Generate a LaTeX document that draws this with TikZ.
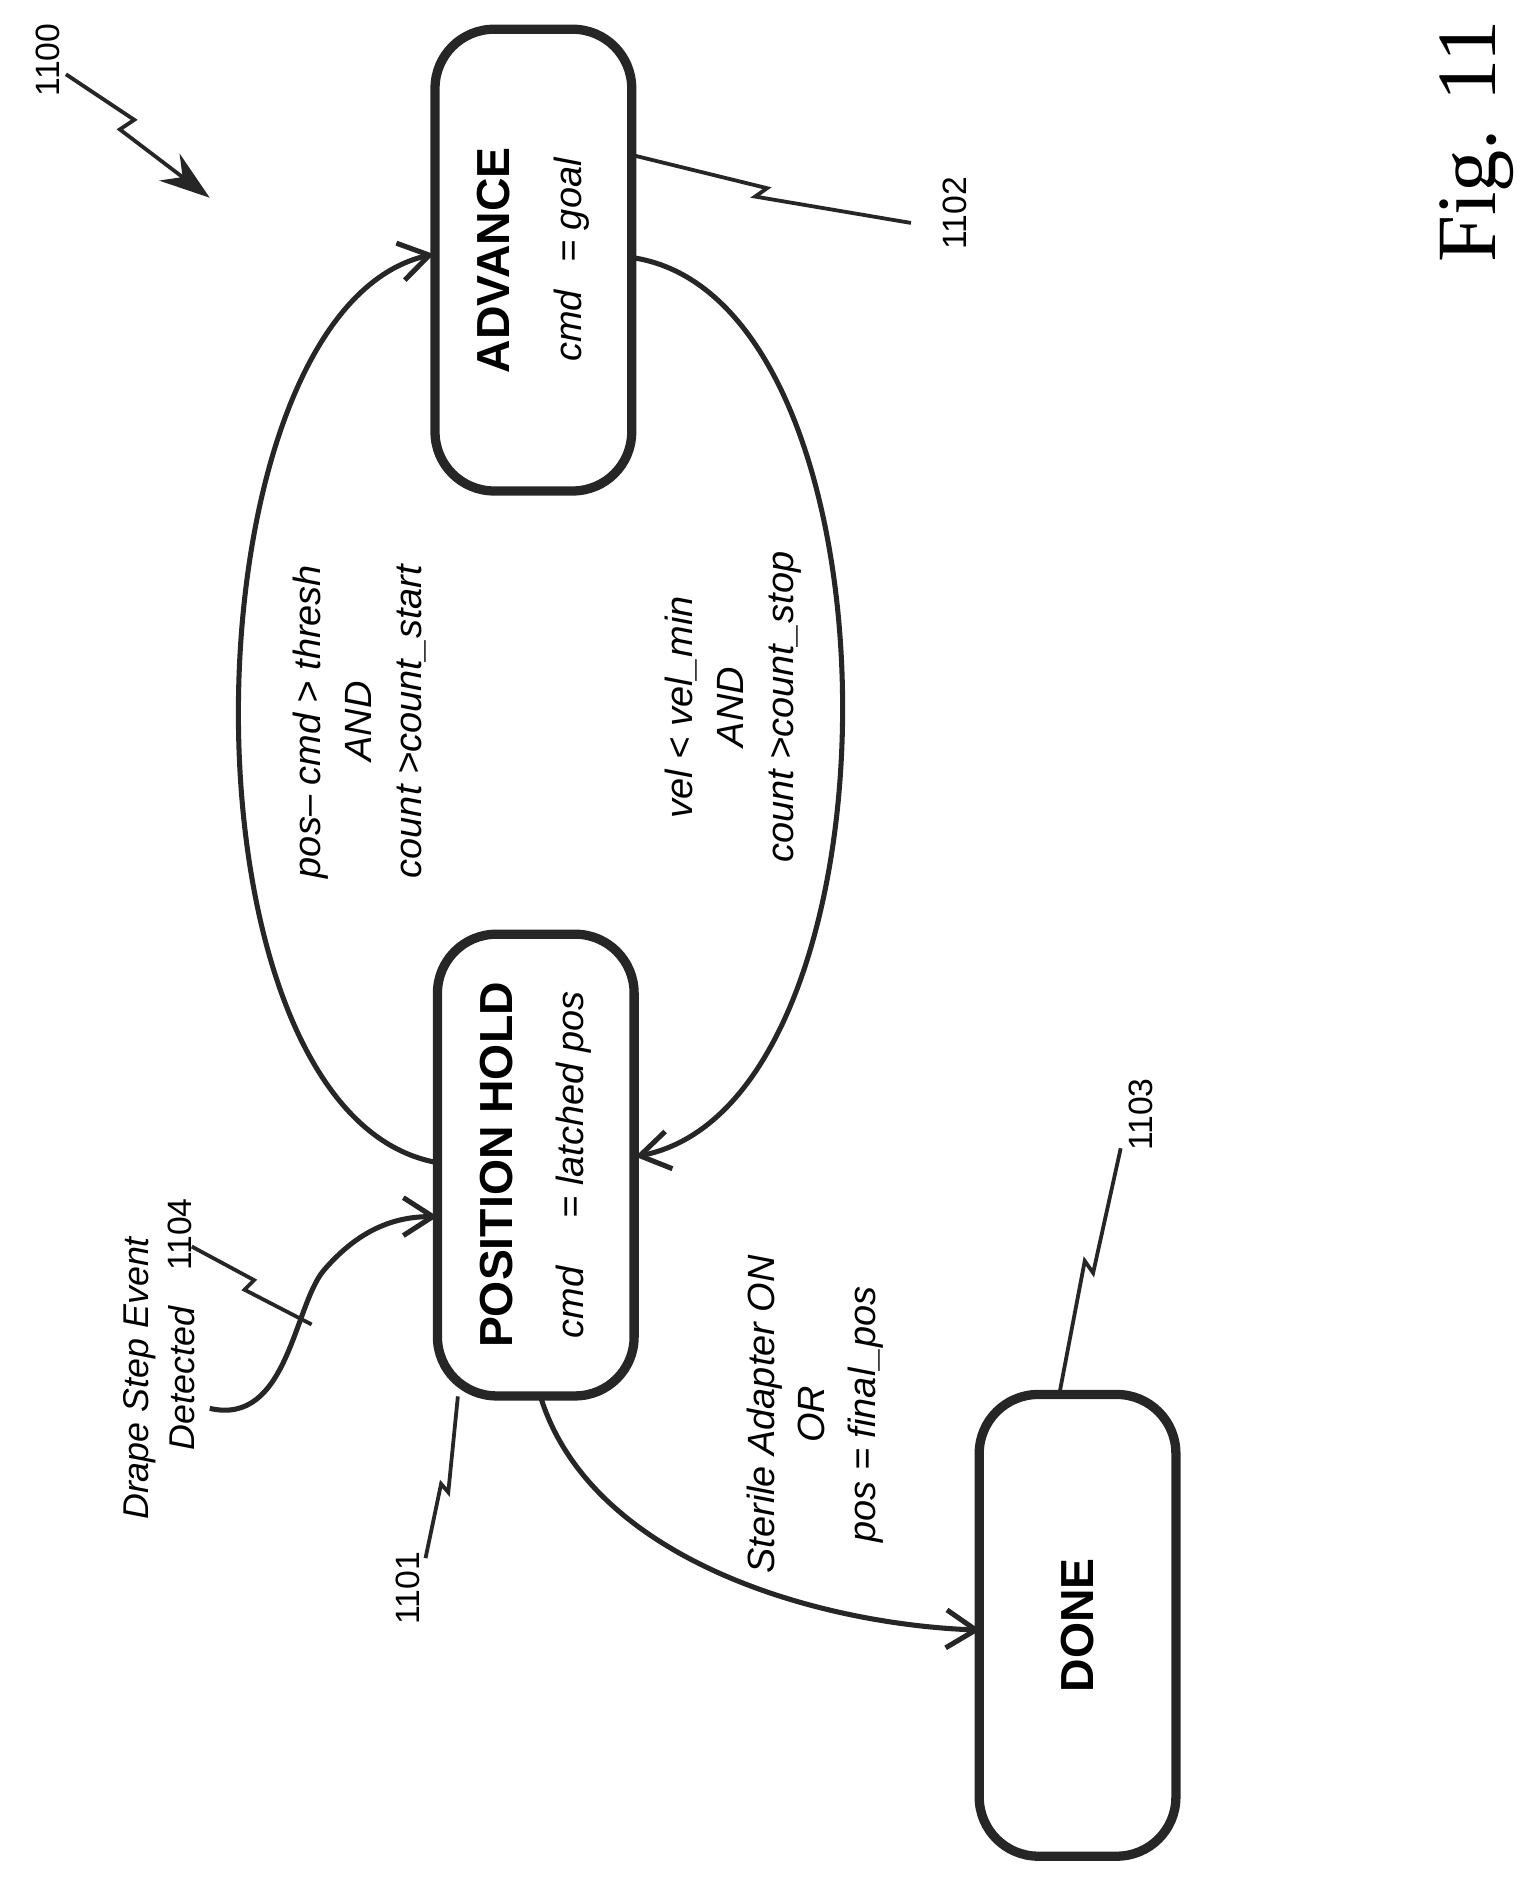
\documentclass[tikz,border=0pt]{standalone}
\usepackage{fontspec}
\setmainfont{Liberation Sans}
\newfontfamily\figfont{Liberation Serif}
\usetikzlibrary{positioning,calc,arrows.meta}
\tikzset{
    state/.style={draw=black!85, line width=2.2pt, rounded corners=14pt,
        rotate=90, minimum width=3.85cm, minimum height=1.64cm,
        align=center, inner sep=0pt},
    title/.style={font=\bfseries\fontsize{11}{13}\selectfont},
    trans/.style={draw=black!85, line width=1.2pt, -{Straight Barb[length=7pt,width=9pt]}},
    cond/.style={rotate=90, align=center, font=\itshape\fontsize{9}{12}\selectfont},
    refnum/.style={rotate=90, font=\fontsize{8}{10}\selectfont},
    leader/.style={draw=black!85, line width=0.9pt}
}
\begin{document}
\begin{tikzpicture}[x=0.01cm,y=-0.01cm]
    \useasboundingbox (0,0) rectangle (1276,1576);

    % states
    \node[state] (adv) at (445,217) {{\bfseries\fontsize{11}{13}\selectfont ADVANCE}\\[5pt]\itshape\fontsize{9}{11}\selectfont cmd \;\,= goal};
    \node[state] (hold) at (447,972) {{\bfseries\fontsize{11}{13}\selectfont POSITION HOLD}\\[5pt]\itshape\fontsize{9}{11}\selectfont cmd \quad= latched pos};
    \node[state] (done) at (899,1356) {\bfseries\fontsize{11}{13}\selectfont DONE};

    % arrow ends on the boxes
    \coordinate (advL) at (362,212);
    \coordinate (advR) at (528,215);
    \coordinate (holdL) at (365,970);
    \coordinate (holdLin) at (365,1015);
    \coordinate (holdR) at (530,965);
    \coordinate (holdB) at (450,1162);
    \coordinate (doneL) at (818,1360);
    \coordinate (start) at (175,1175);

    % transitions
    \draw[trans] (holdL) .. controls (140,930) and (150,260) .. (advL);
    \draw[trans] (advR) .. controls (760,250) and (760,920) .. (holdR);
    \draw[trans] (start) .. controls (240,1190) and (245,1090) .. (270,1060) .. controls (300,1025) and (330,1015) .. (holdLin);
    \draw[trans] (holdB) .. controls (490,1300) and (680,1355) .. (doneL);

    % conditions
    \node[cond] (c1) at (300,602) {pos-- cmd > thresh\\AND\\count >count\_start};
    \node[cond] (c2) at (612,590) {vel < vel\_min\\AND\\count >count\_stop};
    \node[cond] (c3) at (680,1180) {Sterile Adapter ON\\OR\\pos = final\_pos};
    \node[cond, font=\itshape\fontsize{8.5}{11}\selectfont] (c4) at (133,1150) {Drape Step Event\\Detected};

    % reference numerals
    \node[refnum] (r1100) at (40,50) {1100};
    \node[refnum] (r1102) at (797,178) {1102};
    \node[refnum] (r1103) at (952,930) {1103};
    \node[refnum] (r1104) at (150,1030) {1104};
    \node[refnum] (r1101) at (340,1325) {1101};
    \draw[leader, -{Stealth[length=12pt,width=8pt]}] (55,62) -- (112,100) -- (100,108) -- (175,165);
    \draw[leader] (530,130) -- (640,157) -- (630,164) -- (760,186);
    \draw[leader] (935,958) -- (912,1062) -- (905,1052) -- (884,1162);
    \draw[leader] (160,1040) -- (212,1068) -- (204,1076) -- (260,1105);
    \draw[leader] (355,1300) -- (368,1238) -- (374,1245) -- (382,1165);

    \node[rotate=90, font=\figfont\fontsize{20}{24}\selectfont] (fig) at (1232,118) {Fig. 11};
\end{tikzpicture}
\end{document}
